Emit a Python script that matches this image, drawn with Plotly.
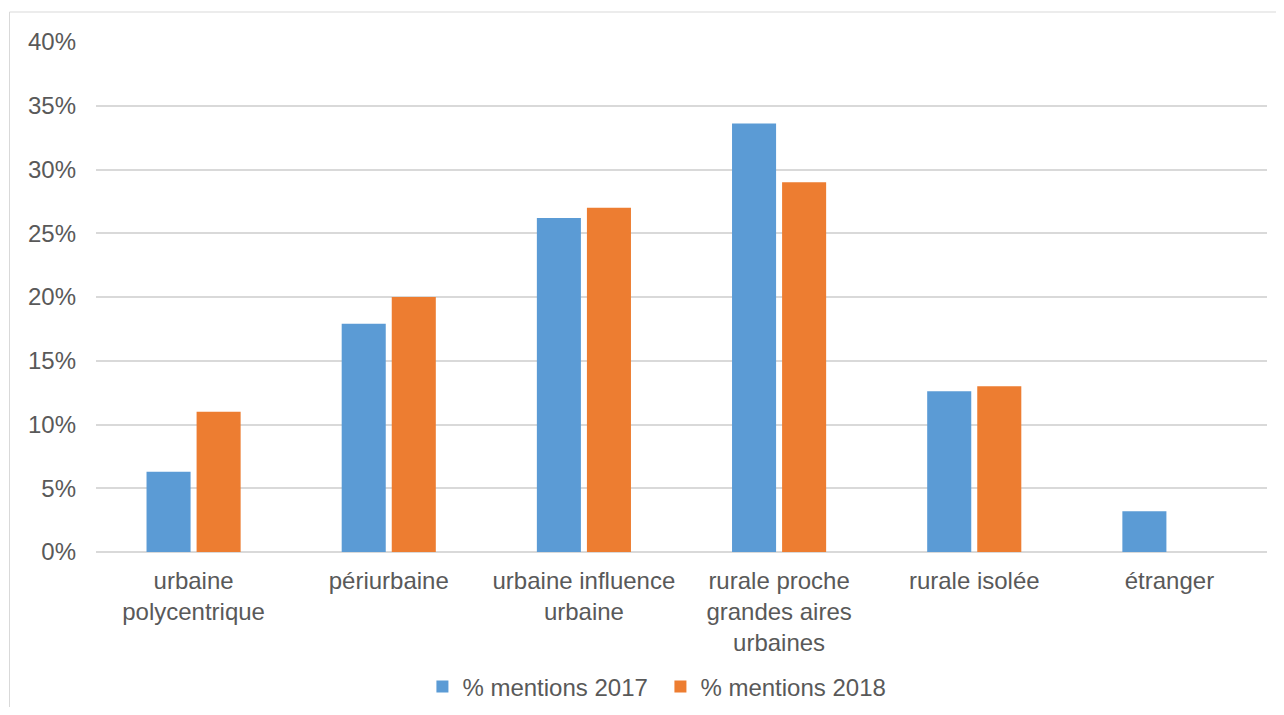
import plotly.graph_objects as go

categories = ["urbaine<br>polycentrique", "périurbaine", "urbaine influence<br>urbaine",
              "rurale proche<br>grandes aires<br>urbaines", "rurale isolée", "étranger"]
values_2017 = [0.063, 0.179, 0.262, 0.336, 0.126, 0.032]
values_2018 = [0.110, 0.200, 0.270, 0.290, 0.130, 0.0]
series_names = ["% mentions 2017", "% mentions 2018"]
colors = ["#5B9BD5", "#ED7D31"]

# page has an 8px body margin
OFF = 8
W, H = 1276, 699
ml, mt = 96 - OFF, 42 - OFF
plot_right, plot_bottom = 1267 - OFF, 552 - OFF
mr, mb = W - plot_right, H - plot_bottom
pw, ph = W - ml - mr, H - mt - mb

fig = go.Figure()
for name, vals, col in zip(series_names, [values_2017, values_2018], colors):
    fig.add_trace(go.Bar(x=categories, y=vals, name=name, marker=dict(color=col, line=dict(width=0))))

font = dict(family="Liberation Sans, Arial, sans-serif", size=24, color="#595959")
fig.update_layout(
    width=W, height=H,
    margin=dict(l=ml, r=mr, t=mt, b=mb, autoexpand=False),
    paper_bgcolor="white", plot_bgcolor="white",
    font=font,
    barmode="group", bargap=0.487, bargroupgap=0.12,
    showlegend=True,
    legend=dict(orientation="h", x=0.482, xanchor="center",
                y=(plot_bottom - (687 - OFF)) / ph, yanchor="middle",
                font=font, itemwidth=30, traceorder="normal",
                entrywidth=193, entrywidthmode="pixels"),
    xaxis=dict(showgrid=False, showline=False, ticks="", tickfont=font, zeroline=False,
               ticklabelstandoff=12),
    yaxis=dict(range=[0, 0.40], dtick=0.05, tickformat=".0%", showgrid=True, gridcolor="#d9d9d9",
               gridwidth=1.5, zeroline=True, zerolinecolor="#d9d9d9", zerolinewidth=1.5,
               showline=False, ticks="", tickfont=font, ticklabelstandoff=19),
    shapes=[dict(type="rect", xref="paper", yref="paper",
                 x0=(9.5 - OFF - ml) / pw, x1=(W + 20 - ml) / pw,
                 y0=(plot_bottom - (H + 20)) / ph, y1=(plot_bottom - (12 - OFF)) / ph,
                 line=dict(color="#d9d9d9", width=1), fillcolor="rgba(0,0,0,0)", layer="below")],
)
fig.write_html("out.html")
